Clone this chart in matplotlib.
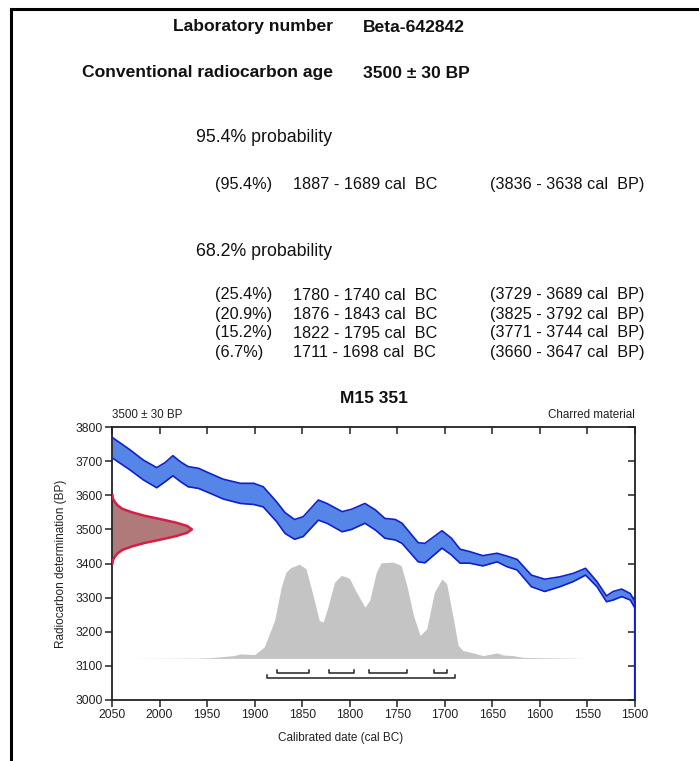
import numpy as np
import matplotlib
matplotlib.use('Agg')
import matplotlib.pyplot as plt
from matplotlib.lines import Line2D

plt.rcParams['font.family'] = ['Liberation Sans', 'DejaVu Sans']

# --- header text ---
lab_number = 'Beta-642842'
conv_age = '3500 ± 30 BP'
sample_name = 'M15 351'
material = 'Charred material'

range95 = [('(95.4%)', '1887 - 1689 cal  BC', '(3836 - 3638 cal  BP)')]
range68 = [
    ('(25.4%)', '1780 - 1740 cal  BC', '(3729 - 3689 cal  BP)'),
    ('(20.9%)', '1876 - 1843 cal  BC', '(3825 - 3792 cal  BP)'),
    ('(15.2%)', '1822 - 1795 cal  BC', '(3771 - 3744 cal  BP)'),
    ('(6.7%)', '1711 - 1698 cal  BC', '(3660 - 3647 cal  BP)'),
]

# --- calibration curve band (cal BC, upper / lower BP) ---
curve_year = [2050, 2031, 2017, 2003, 1994, 1986, 1978, 1970, 1959, 1947,
              1933, 1915, 1901, 1891, 1877, 1868, 1858, 1849, 1833, 1824,
              1808, 1798, 1784, 1773, 1763, 1752, 1745, 1728, 1721, 1703,
              1693, 1684, 1674, 1660, 1645, 1635, 1624, 1609, 1595, 1579,
              1565, 1552, 1540, 1530, 1523, 1514, 1505, 1500]
curve_upper = [3770, 3733, 3703, 3681, 3696, 3716, 3698, 3684, 3679, 3664,
               3647, 3635, 3635, 3625, 3581, 3549, 3529, 3537, 3586, 3576,
               3552, 3559, 3576, 3557, 3532, 3529, 3518, 3461, 3459, 3496,
               3474, 3442, 3435, 3423, 3430, 3422, 3412, 3366, 3354, 3361,
               3371, 3386, 3347, 3305, 3318, 3325, 3312, 3288]
curve_lower = [3710, 3674, 3645, 3622, 3640, 3657, 3640, 3625, 3620, 3606,
               3589, 3576, 3573, 3566, 3523, 3488, 3471, 3479, 3527, 3518,
               3493, 3500, 3518, 3498, 3474, 3469, 3459, 3405, 3402, 3445,
               3425, 3401, 3401, 3393, 3405, 3391, 3381, 3332, 3318, 3332,
               3347, 3366, 3332, 3288, 3293, 3303, 3293, 3269]

# --- measured radiocarbon date (BP level, width in years) ---
c14_bp = [3400, 3410, 3420, 3430, 3440, 3450, 3460, 3470, 3480, 3490, 3500,
          3510, 3520, 3530, 3540, 3550, 3560, 3570, 3580, 3590, 3600]
c14_width = [0.5, 1, 3, 6, 11, 21, 34, 51, 67, 79, 84,
             79, 67, 51, 34, 21, 11, 6, 3, 1, 0.5]

# --- calibrated probability (cal BC, BP level of the grey curve) ---
prob_base = 3122
prob_year = [2028, 1960, 1943, 1922, 1915, 1900, 1890, 1879, 1872, 1867,
             1862, 1853, 1846, 1839, 1832, 1828, 1823, 1816, 1809, 1803,
             1800, 1793, 1784, 1779, 1772, 1767, 1754, 1746, 1740, 1733,
             1726, 1719, 1711, 1703, 1698, 1691, 1686, 1681, 1670, 1660,
             1645, 1639, 1628, 1618, 1549]
prob_level = [3122, 3123, 3125, 3130, 3135, 3133, 3155, 3233, 3331, 3375,
              3388, 3398, 3385, 3311, 3233, 3228, 3272, 3345, 3365, 3360,
              3355, 3316, 3272, 3292, 3375, 3402, 3404, 3394, 3336, 3248,
              3189, 3209, 3316, 3355, 3340, 3238, 3160, 3145, 3138, 3130,
              3138, 3132, 3130, 3125, 3122]

# --- ranges (start, end cal BC) ---
ranges95 = [(1887, 1689)]
ranges68 = [(1876, 1843), (1822, 1795), (1780, 1740), (1711, 1698)]

fig = plt.figure(figsize=(6.99, 7.61), dpi=100)

# page border (top and left)
fig.add_artist(Line2D([11 / 699, 11 / 699], [0, 1 - 9 / 761], color='black', lw=2.2,
                      transform=fig.transFigure, solid_capstyle='projecting'))
fig.add_artist(Line2D([11 / 699, 1], [1 - 9 / 761, 1 - 9 / 761], color='black', lw=2.2,
                      transform=fig.transFigure, solid_capstyle='projecting'))

def fx(px):
    return px / 699

def fy(py):
    return 1 - py / 761

txt = '#111111'
fig.text(fx(333), fy(27), 'Laboratory number', ha='right', va='center', fontsize=12.6, fontweight='bold', color=txt)
fig.text(fx(363), fy(27), lab_number, ha='left', va='center', fontsize=12.6, fontweight='bold', color=txt)
fig.text(fx(333), fy(73), 'Conventional radiocarbon age', ha='right', va='center', fontsize=12.6, fontweight='bold', color=txt)
fig.text(fx(363), fy(73), conv_age, ha='left', va='center', fontsize=12.6, fontweight='bold', color=txt)

fig.text(fx(196), fy(138), '95.4% probability', ha='left', va='center', fontsize=12.8, color=txt)
for i, (p, bc, bp) in enumerate(range95):
    y = 184 + i * 19
    fig.text(fx(215), fy(y), p, ha='left', va='center', fontsize=11.7, color=txt)
    fig.text(fx(293), fy(y + 0.8), bc, ha='left', va='center', fontsize=11.7, color=txt)
    fig.text(fx(490), fy(y), bp, ha='left', va='center', fontsize=11.7, color=txt)

fig.text(fx(196), fy(251), '68.2% probability', ha='left', va='center', fontsize=12.8, color=txt)
for i, (p, bc, bp) in enumerate(range68):
    y = 295 + i * 19
    fig.text(fx(215), fy(y), p, ha='left', va='center', fontsize=11.7, color=txt)
    fig.text(fx(293), fy(y + 0.8), bc, ha='left', va='center', fontsize=11.7, color=txt)
    fig.text(fx(490), fy(y), bp, ha='left', va='center', fontsize=11.7, color=txt)

# --- plot ---
ax = fig.add_axes([112 / 699, 61 / 761, 523 / 699, 273 / 761])
ax.set_xlim(2050, 1500)
ax.set_ylim(3000, 3800)

ax.fill_between(prob_year, prob_base, prob_level, color='#c4c4c4', lw=0, zorder=1)

ax.fill_between(curve_year, curve_lower, curve_upper, color='#5585e6', lw=0, zorder=2)
ax.plot(curve_year, curve_upper, color='#1020cc', lw=1.2, zorder=3)
ax.plot(curve_year, curve_lower, color='#1020cc', lw=1.2, zorder=3)
ax.plot([curve_year[-1], curve_year[-1]], [3000, curve_upper[-1]], color='#1020cc', lw=1.6, zorder=3)

c14_x = 2050 - np.array(c14_width)
ax.fill_betweenx(c14_bp, 2050, c14_x, color='#b07a7a', lw=0, zorder=2)
ax.plot(c14_x, c14_bp, color='#d81e45', lw=1.8, zorder=3)

for (a, b) in ranges95:
    ax.plot([a, a, b, b], [3072, 3064, 3064, 3072], color='#222222', lw=1.1, zorder=3)
for (a, b) in ranges68:
    ax.plot([a, a, b, b], [3088, 3080, 3080, 3088], color='#222222', lw=1.1, zorder=3)

ax.set_xticks(np.arange(2050, 1499, -50))
ax.set_yticks(np.arange(3000, 3801, 100))
ax.tick_params(axis='both', which='both', labelsize=8.7, colors='#222222', width=1.1, length=5,
               labelcolor='#222222', pad=1.5)
ax.tick_params(top=True, right=True, labeltop=False, labelright=False)
ax.xaxis.set_tick_params(which='major', direction='out')
ax.yaxis.set_tick_params(which='major', direction='out')
for t in ax.xaxis.get_major_ticks():
    t.tick2line.set_marker(3)
for t in ax.yaxis.get_major_ticks():
    t.tick2line.set_marker(0)
for s in ax.spines.values():
    s.set_color('#222222')
    s.set_linewidth(1.3)

ax.set_xlabel('Calibrated date (cal BC)', fontsize=8.5, color='#222222')
ax.xaxis.set_label_coords((341 - 112) / 523, -0.118)
ax.set_ylabel('Radiocarbon determination (BP)', fontsize=8.5, color='#222222', labelpad=6)

ax.text(0.0, 1.022, conv_age, transform=ax.transAxes, ha='left', va='bottom', fontsize=8.4, color='#222222')
ax.text(1.0, 1.022, material, transform=ax.transAxes, ha='right', va='bottom', fontsize=8.4, color='#222222')
ax.set_title(sample_name, fontsize=12.5, fontweight='bold', color=txt, pad=17)

fig.savefig('out.png', dpi=100, facecolor='white')
